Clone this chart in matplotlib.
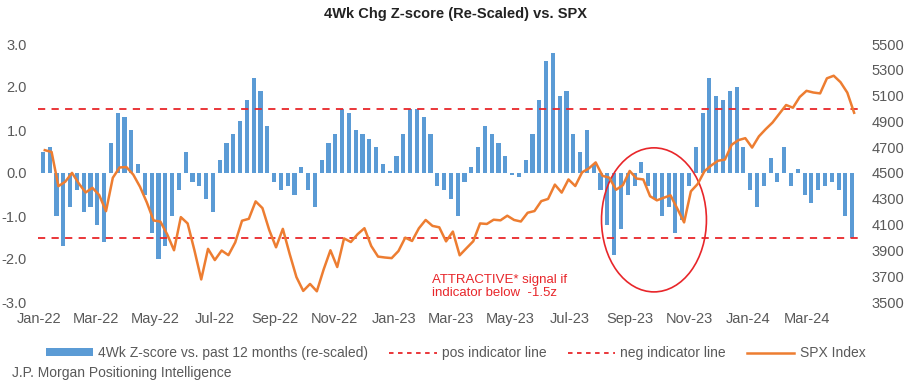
import matplotlib
matplotlib.use("Agg")
import matplotlib.pyplot as plt
import matplotlib.dates as mdates
from matplotlib.patches import Ellipse, Patch
from matplotlib.lines import Line2D
import pandas as pd
import numpy as np

plt.rcParams['font.family'] = ['Liberation Sans', 'DejaVu Sans']

# Weekly (Friday) observations, Jan-2022 .. Apr-2024
week_end = pd.date_range('2022-01-07', periods=120, freq='W-FRI')

zscore_2022 = [0.5, 0.6, -1.0, -1.7, -0.8, -0.4, -0.9, -0.8, -1.2, -1.6,
               0.7, 1.4, 1.3, 1.0, 0.2, -0.5, -1.4, -2.0, -1.7, -1.0,
               -0.4, 0.5, -0.2, -0.3, -0.6, -0.9, 0.3, 0.7, 0.9, 1.2,
               1.7, 2.2, 1.9, 1.1, -0.2, -0.4, -0.3, -0.5, 0.15, -0.4,
               -0.8, 0.3, 0.7, 0.9, 1.5, 1.4, 1.0, 0.9, 0.8, 0.6,
               0.2, 0.05]
zscore_2023 = [0.4, 0.9, 1.5, 1.5, 1.3, 0.9, -0.3, -0.4, -0.6, -1.0,
               -0.2, 0.15, 0.6, 1.1, 0.9, 0.7, 0.4, -0.05, -0.1, 0.3,
               0.9, 1.7, 2.6, 2.8, 1.8, 1.9, 0.9, 0.5, 1.0, 0.2,
               -0.4, -1.2, -1.9, -1.3, -0.5, -0.3, 0.25, -0.3, -0.6, -1.0,
               -0.8, -1.4, -1.1, -0.3, 0.6, 1.4, 2.2, 1.8, 1.7, 1.9,
               2.0, 0.6]
zscore_2024 = [-0.4, -0.8, -0.3, 0.35, -0.2, 0.6, -0.3, 0.1, -0.5, -0.7,
               -0.4, -0.3, -0.2, -0.4, -1.0, -1.5]

spx_2022 = [4677, 4663, 4398, 4432, 4501, 4419, 4349, 4385, 4329, 4204,
            4463, 4543, 4546, 4488, 4393, 4272, 4132, 4123, 4024, 3901,
            4158, 4109, 3901, 3675, 3912, 3825, 3899, 3863, 3962, 4130,
            4145, 4280, 4228, 4058, 3924, 4067, 3873, 3693, 3586, 3640,
            3583, 3752, 3901, 3771, 3993, 3965, 4026, 4072, 3934, 3852,
            3845, 3840]
spx_2023 = [3895, 3999, 3973, 4071, 4136, 4090, 4079, 3970, 4046, 3862,
            3917, 3971, 4109, 4105, 4138, 4133, 4169, 4136, 4124, 4192,
            4205, 4282, 4299, 4410, 4348, 4450, 4399, 4505, 4536, 4582,
            4478, 4464, 4370, 4406, 4516, 4457, 4450, 4320, 4288, 4308,
            4327, 4224, 4117, 4358, 4415, 4514, 4559, 4595, 4604, 4719,
            4755, 4770]
spx_2024 = [4697, 4784, 4840, 4891, 4959, 5027, 5006, 5089, 5137, 5124,
            5117, 5234, 5254, 5204, 5123, 4967]

zscore = zscore_2022 + zscore_2023 + zscore_2024
spx = spx_2022 + spx_2023 + spx_2024

pos_line = 1.5
neg_line = -1.5

BLUE = '#5B9BD5'
ORANGE = '#ED7D31'
RED = '#E8262A'
GREY = '#595959'

fig = plt.figure(figsize=(9.11, 3.89), dpi=100)
ax = fig.add_axes([38/911, 1-302/389, (858-38)/911, (302-44)/389])
ax2 = ax.twinx()

bar_x = week_end - pd.Timedelta(days=2)
ax.bar(bar_x, zscore, width=4.2, color=BLUE, linewidth=0, zorder=2)
ax.axhline(pos_line, color=RED, ls=(0, (4, 3.5)), lw=1.3, zorder=3)
ax.axhline(neg_line, color=RED, ls=(0, (4, 3.5)), lw=1.3, zorder=3)

ax2.plot(week_end, spx, color=ORANGE, lw=1.8, zorder=4)

ax.set_ylim(-3, 3)
ax.set_yticks([-3, -2, -1, 0, 1, 2, 3])
ax.yaxis.set_major_formatter(matplotlib.ticker.FormatStrFormatter('%.1f'))
ax2.set_ylim(3500, 5500)
ax2.set_yticks(range(3500, 5501, 200))

ax.set_xlim(pd.Timestamp('2021-12-31'), pd.Timestamp('2024-04-23'))
ax.xaxis.set_major_locator(mdates.MonthLocator(bymonth=[1, 3, 5, 7, 9, 11]))
ax.xaxis.set_major_formatter(mdates.DateFormatter('%b-%y'))

for a in (ax, ax2):
    for s in a.spines.values():
        s.set_visible(False)
    a.tick_params(length=0, labelsize=10.5, labelcolor=GREY)
ax.tick_params(axis='y', pad=8)
ax.tick_params(axis='x', pad=7)
ax2.tick_params(axis='y', pad=10)

# Ellipse highlight
cx = mdates.date2num(pd.Timestamp('2023-09-26'))
ell = Ellipse((cx, -1.09), width=108, height=3.35, fill=False,
              edgecolor=RED, lw=1.2, zorder=5)
ax.add_patch(ell)

ax.text(mdates.date2num(pd.Timestamp('2023-02-10')), -2.64,
        'ATTRACTIVE* signal if\nindicator below  -1.5z', color=RED,
        fontsize=9.5, va='center', ha='left', linespacing=1.15)

fig.text(0.5, 1-14/389, '4Wk Chg Z-score (Re-Scaled) vs. SPX',
         ha='center', va='center', fontsize=10.5, fontweight='bold',
         color='#222222')

handles = [Patch(facecolor=BLUE, edgecolor='none'),
           Line2D([], [], color=RED, ls=(0, (2.5, 2.5)), lw=1.3),
           Line2D([], [], color=RED, ls=(0, (2.5, 2.5)), lw=1.3),
           Line2D([], [], color=ORANGE, lw=1.8)]
labels = ['4Wk Z-score vs. past 12 months (re-scaled)', 'pos indicator line',
          'neg indicator line', 'SPX Index']
leg = fig.legend(handles, labels, loc='center', ncol=4,
                 bbox_to_anchor=(0.5, 1-353/389), frameon=False,
                 fontsize=10, handlelength=3.4, handleheight=0.5,
                 columnspacing=1.5, handletextpad=0.4)
for t in leg.get_texts():
    t.set_color(GREY)

fig.text(12/911, 1-373/389, 'J.P. Morgan Positioning Intelligence',
         ha='left', va='center', fontsize=10, color=GREY)

fig.savefig('out.png', dpi=100)
